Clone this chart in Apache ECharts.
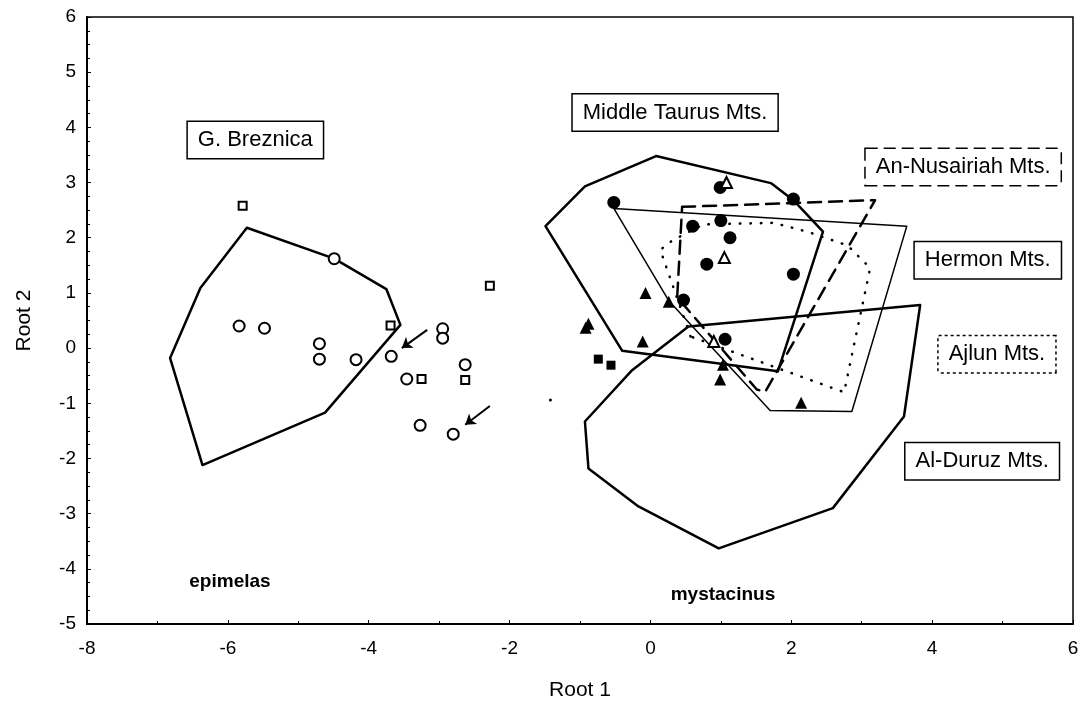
<!DOCTYPE html>
<html>
<head>
<meta charset="utf-8">
<script src="https://cdn.jsdelivr.net/npm/echarts@6/dist/echarts.min.js"></script>
<style>
html,body{margin:0;padding:0;background:#fff;}
#charts{width:1083px;height:702px;}
</style>
</head>
<body>
<div id="charts"></div>
<script>
// convex hulls (Root 1, Root 2)
var hullBreznica = [[-5.73,2.18],[-4.49,1.62],[-3.75,1.07],[-3.55,0.42],[-4.62,-1.17],[-6.36,-2.12],[-6.82,-0.18],[-6.39,1.09],[-5.73,2.18]];
var hullTaurus = [[0.08,3.48],[1.71,2.99],[2.03,2.68],[2.45,2.11],[1.81,-0.42],[-0.40,-0.05],[-1.49,2.21],[-0.93,2.93],[0.08,3.48]];
var hullHermon = [[-0.52,2.53],[3.64,2.21],[2.86,-1.15],[1.70,-1.13],[0.26,0.86],[-0.52,2.53]];
var hullNusairiah = [[0.45,2.56],[3.19,2.68],[1.63,-0.79],[1.51,-0.75],[0.38,0.92],[0.45,2.56]];
var hullAjlun = [[0.57,0.21],[0.14,1.78],[0.31,1.95],[0.75,2.24],[1.75,2.27],[2.25,2.10],[2.80,1.86],[3.12,1.45],[2.75,-0.80],[0.57,0.21]];
var hullDuruz = [[0.54,0.39],[3.83,0.78],[3.60,-1.24],[2.59,-2.90],[0.97,-3.63],[-0.17,-2.87],[-0.88,-2.18],[-0.93,-1.33],[-0.26,-0.40],[0.54,0.39]];

// points
var openCircles = [[-4.49,1.62],[-5.84,0.40],[-5.48,0.36],[-4.70,0.08],[-4.70,-0.20],[-4.18,-0.21],[-3.68,-0.15],[-2.95,0.35],[-2.95,0.18],[-2.63,-0.30],[-3.46,-0.56],[-3.27,-1.40],[-2.80,-1.56]];
var openSquares = [[-5.79,2.58],[-3.69,0.41],[-2.28,1.13],[-3.25,-0.56],[-2.63,-0.58]];
var filledCircles = [[-0.52,2.64],[0.99,2.91],[2.03,2.70],[0.60,2.21],[1.00,2.31],[1.13,2.00],[0.80,1.52],[2.03,1.34],[0.47,0.87],[1.06,0.16]];
var openTriangles = [[1.08,3.00],[1.05,1.64],[0.90,0.12]];
var filledTriangles = [[-0.07,1.00],[0.26,0.84],[-0.88,0.44],[-0.92,0.37],[-0.11,0.12],[1.03,-0.30],[0.99,-0.57],[2.14,-0.99]];
var filledSquares = [[-0.74,-0.20],[-0.56,-0.31]];
var strayDots = [[-1.42,-0.94]];

// arrows: from, to
var arrows = [[[-3.17,0.33],[-3.53,0.00]],[[-2.28,-1.05],[-2.63,-1.39]]];

// text annotations
var boxNames = ['G. Breznica','Middle Taurus Mts.','An-Nusairiah Mts.','Hermon Mts.','Ajlun Mts.','Al-Duruz Mts.'];
var boxPos = [[-5.61,3.77],[0.35,4.27],[4.44,3.28],[4.79,1.59],[4.92,-0.11],[4.71,-2.05]];
var groupNames = ['epimelas','mystacinus'];
var groupPos = [[-5.97,-4.24],[1.03,-4.47]];

var FONT = '"Liberation Sans", Arial, sans-serif';

function hull(data, width, type){
	return {
		type:'line',
		data:data,
		symbol:'none',
		silent:true,
		z:2,
		lineStyle:{color:'#000',width:width,type:type,cap:'round',join:'round'}
	};
}
function pts(data, symbol, size, fill, bw){
	return {
		type:'scatter',
		data:data,
		symbol:symbol,
		symbolSize:size,
		z:4,
		itemStyle:{color:fill,borderColor:'#000',borderWidth:bw,opacity:1}
	};
}

var borderTypes = {'An-Nusairiah Mts.':'dashed','Ajlun Mts.':'dotted'};
var boxData = boxNames.map(function(n,i){
	return {
		value:boxPos[i],
		label:{
			show:true,position:'inside',formatter:n,
			fontFamily:FONT,fontSize:22,color:'#000',lineHeight:24,
			textBorderWidth:0,
			backgroundColor:'#fff',borderColor:'#000',borderWidth:1.5,
			borderType:borderTypes[n]||'solid',padding:[6,10]
		}
	};
});
var groupData = groupNames.map(function(n,i){
	return {
		value:groupPos[i],
		label:{show:true,position:'inside',formatter:n,fontFamily:FONT,fontSize:19,fontWeight:'bold',color:'#000',textBorderWidth:0}
	};
});

var charts = echarts.init(document.getElementById('charts'));
var option = {
	animation:false,
	backgroundColor:'#fff',
	grid:{left:87,right:10,top:17,bottom:78,outerBoundsMode:'none',show:true,borderColor:'#000',borderWidth:1.5,backgroundColor:'transparent'},
	xAxis:{
		type:'value',min:-8,max:6,interval:2,
		name:'Root 1',nameLocation:'middle',nameGap:56,
		nameTextStyle:{fontFamily:FONT,fontSize:21,color:'#000'},
		axisLine:{show:true,onZero:false,lineStyle:{color:'#000',width:2}},
		axisTick:{show:true,inside:true,length:4,lineStyle:{color:'#000'}},
		minorTick:{show:true,splitNumber:2,length:3,lineStyle:{color:'#000'}},
		splitLine:{show:false},
		axisLabel:{fontFamily:FONT,fontSize:19,color:'#000',margin:15}
	},
	yAxis:{
		type:'value',min:-5,max:6,interval:1,
		name:'Root 2',nameLocation:'middle',nameGap:52,nameRotate:90,
		nameTextStyle:{fontFamily:FONT,fontSize:21,color:'#000'},
		axisLine:{show:true,onZero:false,lineStyle:{color:'#000',width:2}},
		axisTick:{show:true,inside:true,length:4,lineStyle:{color:'#000'}},
		minorTick:{show:true,splitNumber:4,length:3,lineStyle:{color:'#000'}},
		splitLine:{show:false},
		axisLabel:{fontFamily:FONT,fontSize:19,color:'#000',margin:11}
	},
	series:[
		hull(hullBreznica,2.5,'solid'),
		hull(hullTaurus,2.5,'solid'),
		hull(hullHermon,1.5,'solid'),
		hull(hullNusairiah,2.5,[13,8]),
		hull(hullAjlun,2.5,[0.5,10]),
		hull(hullDuruz,2.5,'solid'),
		pts(openCircles,'circle',11,'#fff',2),
		pts(openSquares,'rect',8,'#fff',2),
		pts(filledCircles,'circle',13,'#000',0),
		pts(openTriangles,'triangle',11,'#fff',2),
		pts(filledTriangles,'triangle',12,'#000',0),
		pts(filledSquares,'rect',9,'#000',0),
		pts(strayDots,'circle',3,'#000',0),
		{
			type:'lines',
			coordinateSystem:'cartesian2d',
			symbol:['none','arrow'],
			symbolSize:10,
			z:4,
			lineStyle:{color:'#000',width:2,opacity:1,curveness:0},
			data:arrows.map(function(a){return {coords:a};})
		},
		{
			type:'scatter',symbolSize:0,z:6,silent:true,
			itemStyle:{opacity:1},
			data:boxData
		},
		{
			type:'scatter',symbolSize:0,z:6,silent:true,
			itemStyle:{opacity:1},
			data:groupData
		}
	]
};
charts.setOption(option);
</script>
</body>
</html>
